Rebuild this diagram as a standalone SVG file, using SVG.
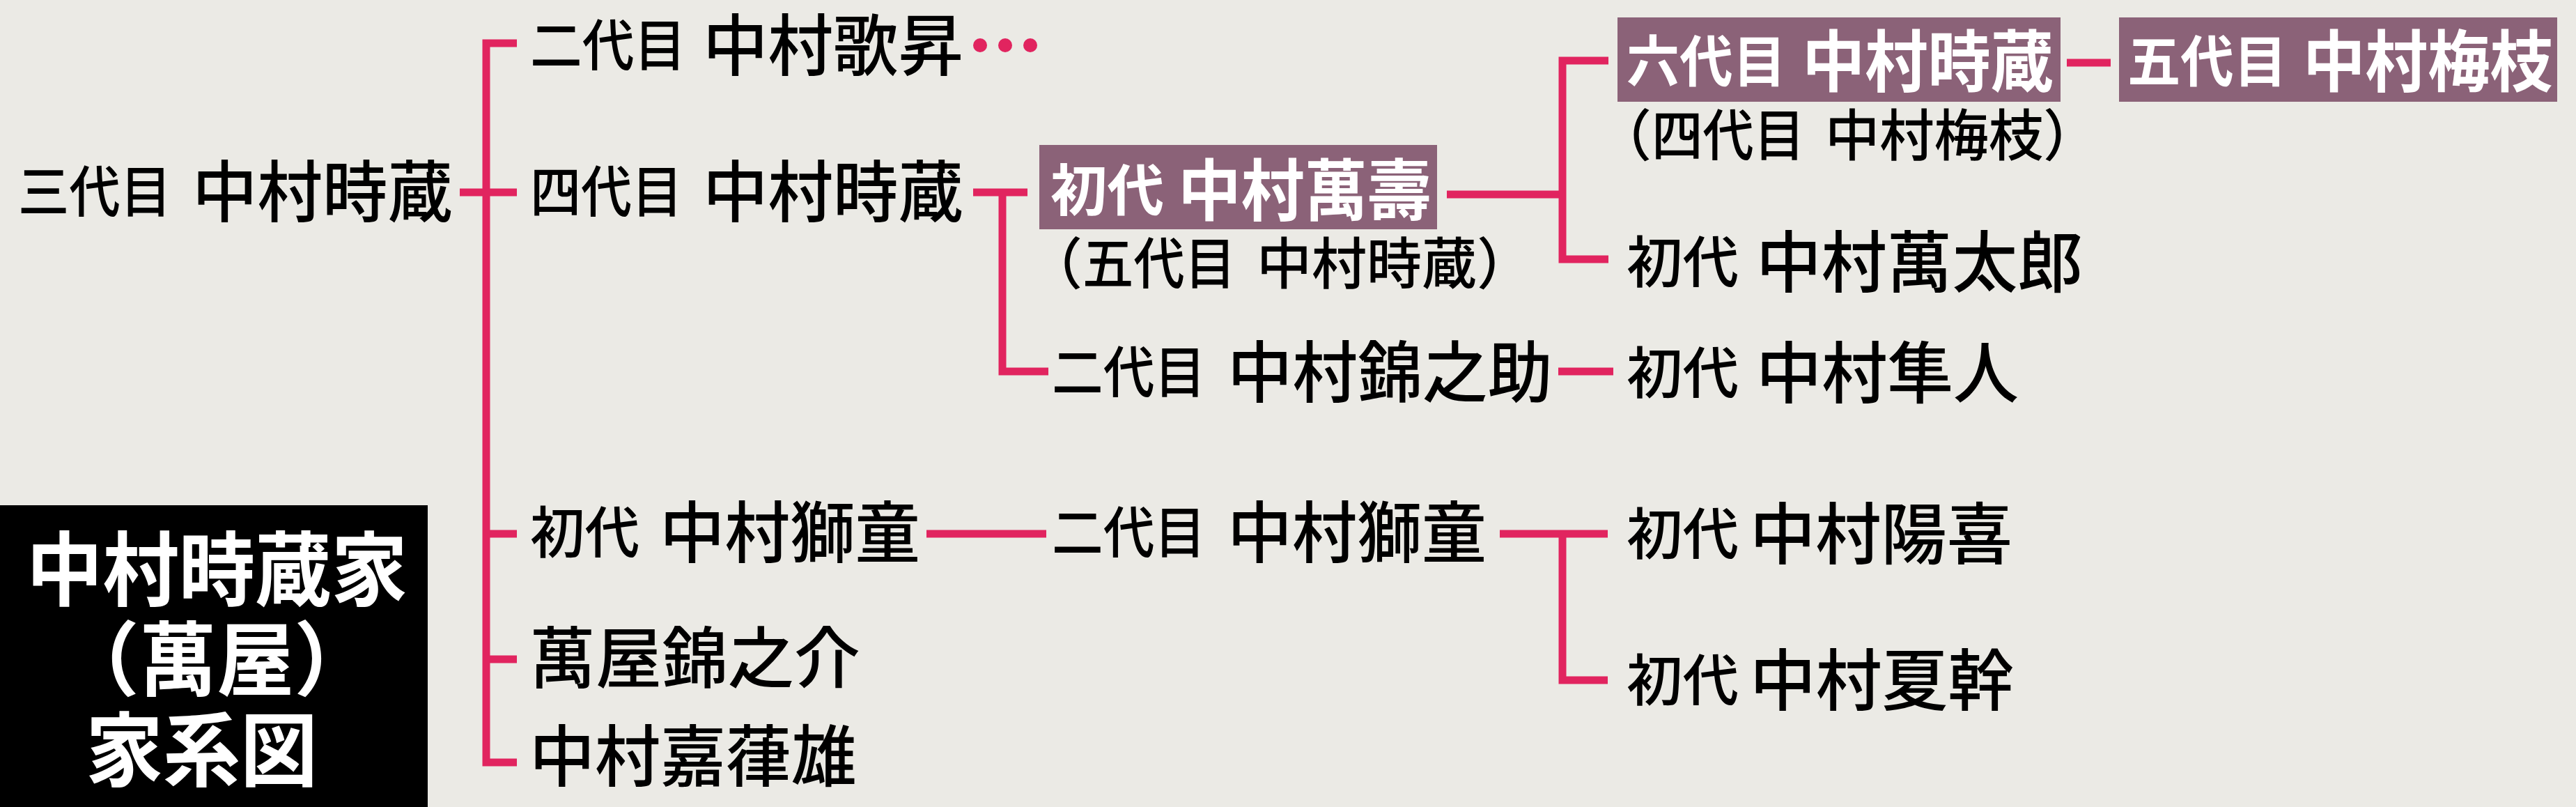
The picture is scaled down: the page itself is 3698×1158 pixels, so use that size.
<svg xmlns="http://www.w3.org/2000/svg" width="3698" height="1158" viewBox="0 0 3698 1158">
<style>
.ln{fill:none;stroke:#e1245f;stroke-width:11;stroke-linejoin:miter;stroke-linecap:butt}
.dot{fill:#e1245f}
.t{font-family:"Noto Sans CJK JP","Noto Sans CJK SC",sans-serif;fill:#000;font-weight:500}
.p{font-size:80px}
.n{font-size:96px}
.w{fill:#fff;font-weight:700}
.ttl{fill:#fff;font-weight:700;font-size:116px}
.box{fill:#8b6278}
</style>
<rect width="3698" height="1158" fill="#ebeae5"/>
<g id="connectors">
<path class="ln" d="M742,62 H698 V1094 H742"/>
<path class="ln" d="M660,276 H742"/>
<path class="ln" d="M698,766 H742"/>
<path class="ln" d="M698,946 H742"/>
<path class="ln" d="M1397,276 H1475"/>
<path class="ln" d="M1439,276 V533 H1505"/>
<path class="ln" d="M2077,279 H2243"/>
<path class="ln" d="M2309,87 H2243 V372 H2309"/>
<path class="ln" d="M2237,533 H2316"/>
<path class="ln" d="M2967,90 H3030"/>
<path class="ln" d="M1330,766 H1502"/>
<path class="ln" d="M2153,766 H2308"/>
<path class="ln" d="M2243,766 V976 H2308"/>
<circle class="dot" cx="1407" cy="65" r="10"/>
<circle class="dot" cx="1443" cy="65" r="10"/>
<circle class="dot" cx="1479" cy="65" r="10"/>
</g>
<g id="title">
<rect x="0" y="725" width="614" height="433" fill="#000"/>
<text class="t ttl" x="38" y="860" textLength="547" lengthAdjust="spacingAndGlyphs">中村時蔵家</text>
<text class="t ttl"><tspan x="84" y="989">（</tspan><tspan x="200" y="989" textLength="222" lengthAdjust="spacingAndGlyphs">萬屋</tspan><tspan x="422" y="989">）</tspan></text>
<text class="t ttl" x="123" y="1119" textLength="333" lengthAdjust="spacingAndGlyphs">家系図</text>
</g>
<g id="n-sandaime-tokizo">
<text class="t"><tspan class="p" x="26" y="304" textLength="220" lengthAdjust="spacingAndGlyphs">三代目</tspan> <tspan class="n" x="276" y="310" textLength="374" lengthAdjust="spacingAndGlyphs">中村時蔵</tspan></text>
</g>
<g id="n-nidaime-kasho">
<text class="t"><tspan class="p" x="761" y="94" textLength="224" lengthAdjust="spacingAndGlyphs">二代目</tspan> <tspan class="n" x="1009" y="100" textLength="374" lengthAdjust="spacingAndGlyphs">中村歌昇</tspan></text>
</g>
<g id="n-yondaime-tokizo">
<text class="t"><tspan class="p" x="761" y="304" textLength="219" lengthAdjust="spacingAndGlyphs">四代目</tspan> <tspan class="n" x="1009" y="310" textLength="374" lengthAdjust="spacingAndGlyphs">中村時蔵</tspan></text>
</g>
<g id="n-shodai-manju">
<rect class="box" x="1492" y="208" width="571" height="121"/>
<text class="t w"><tspan class="p" x="1508" y="302" textLength="163" lengthAdjust="spacingAndGlyphs">初代</tspan> <tspan class="n" x="1691" y="308" textLength="363" lengthAdjust="spacingAndGlyphs">中村萬壽</tspan></text>
<text class="t p"><tspan x="1474" y="407">（</tspan><tspan x="1554" y="407" textLength="220" lengthAdjust="spacingAndGlyphs">五代目</tspan> <tspan x="1804" y="407" textLength="316" lengthAdjust="spacingAndGlyphs">中村時蔵</tspan><tspan x="2120" y="407">）</tspan></text>
</g>
<g id="n-nidaime-kinnosuke">
<text class="t"><tspan class="p" x="1510" y="563" textLength="221" lengthAdjust="spacingAndGlyphs">二代目</tspan> <tspan class="n" x="1762" y="569" textLength="467" lengthAdjust="spacingAndGlyphs">中村錦之助</tspan></text>
</g>
<g id="n-rokudaime-tokizo">
<rect class="box" x="2322" y="25" width="636" height="121"/>
<text class="t w"><tspan class="p" x="2335" y="117" textLength="229" lengthAdjust="spacingAndGlyphs">六代目</tspan> <tspan class="n" x="2587" y="123" textLength="361" lengthAdjust="spacingAndGlyphs">中村時蔵</tspan></text>
<text class="t p"><tspan x="2291" y="223">（</tspan><tspan x="2371" y="223" textLength="220" lengthAdjust="spacingAndGlyphs">四代目</tspan> <tspan x="2620" y="223" textLength="313" lengthAdjust="spacingAndGlyphs">中村梅枝</tspan><tspan x="2933" y="223">）</tspan></text>
</g>
<g id="n-godaime-umeeda">
<rect class="box" x="3042" y="25" width="629" height="121"/>
<text class="t w"><tspan class="p" x="3054" y="117" textLength="229" lengthAdjust="spacingAndGlyphs">五代目</tspan> <tspan class="n" x="3306" y="123" textLength="358" lengthAdjust="spacingAndGlyphs">中村梅枝</tspan></text>
</g>
<g id="n-shodai-mantaro">
<text class="t"><tspan class="p" x="2335" y="405" textLength="161" lengthAdjust="spacingAndGlyphs">初代</tspan> <tspan class="n" x="2521" y="411" textLength="469" lengthAdjust="spacingAndGlyphs">中村萬太郎</tspan></text>
</g>
<g id="n-shodai-hayato">
<text class="t"><tspan class="p" x="2335" y="564" textLength="161" lengthAdjust="spacingAndGlyphs">初代</tspan> <tspan class="n" x="2521" y="570" textLength="377" lengthAdjust="spacingAndGlyphs">中村隼人</tspan></text>
</g>
<g id="n-shodai-shido">
<text class="t"><tspan class="p" x="761" y="793" textLength="157" lengthAdjust="spacingAndGlyphs">初代</tspan> <tspan class="n" x="947" y="799" textLength="374" lengthAdjust="spacingAndGlyphs">中村獅童</tspan></text>
</g>
<g id="n-nidaime-shido">
<text class="t"><tspan class="p" x="1510" y="793" textLength="221" lengthAdjust="spacingAndGlyphs">二代目</tspan> <tspan class="n" x="1762" y="799" textLength="372" lengthAdjust="spacingAndGlyphs">中村獅童</tspan></text>
</g>
<g id="n-shodai-yoki">
<text class="t"><tspan class="p" x="2335" y="795" textLength="161" lengthAdjust="spacingAndGlyphs">初代</tspan> <tspan class="n" x="2512" y="801" textLength="377" lengthAdjust="spacingAndGlyphs">中村陽喜</tspan></text>
</g>
<g id="n-shodai-natsuki">
<text class="t"><tspan class="p" x="2335" y="1005" textLength="161" lengthAdjust="spacingAndGlyphs">初代</tspan> <tspan class="n" x="2512" y="1011" textLength="379" lengthAdjust="spacingAndGlyphs">中村夏幹</tspan></text>
</g>
<g id="n-yorozuya-kinnosuke">
<text class="t n" x="760" y="979" textLength="475" lengthAdjust="spacingAndGlyphs">萬屋錦之介</text>
</g>
<g id="n-kazuo">
<text class="t n" x="760" y="1120" textLength="470" lengthAdjust="spacingAndGlyphs">中村嘉葎雄</text>
</g>
</svg>
